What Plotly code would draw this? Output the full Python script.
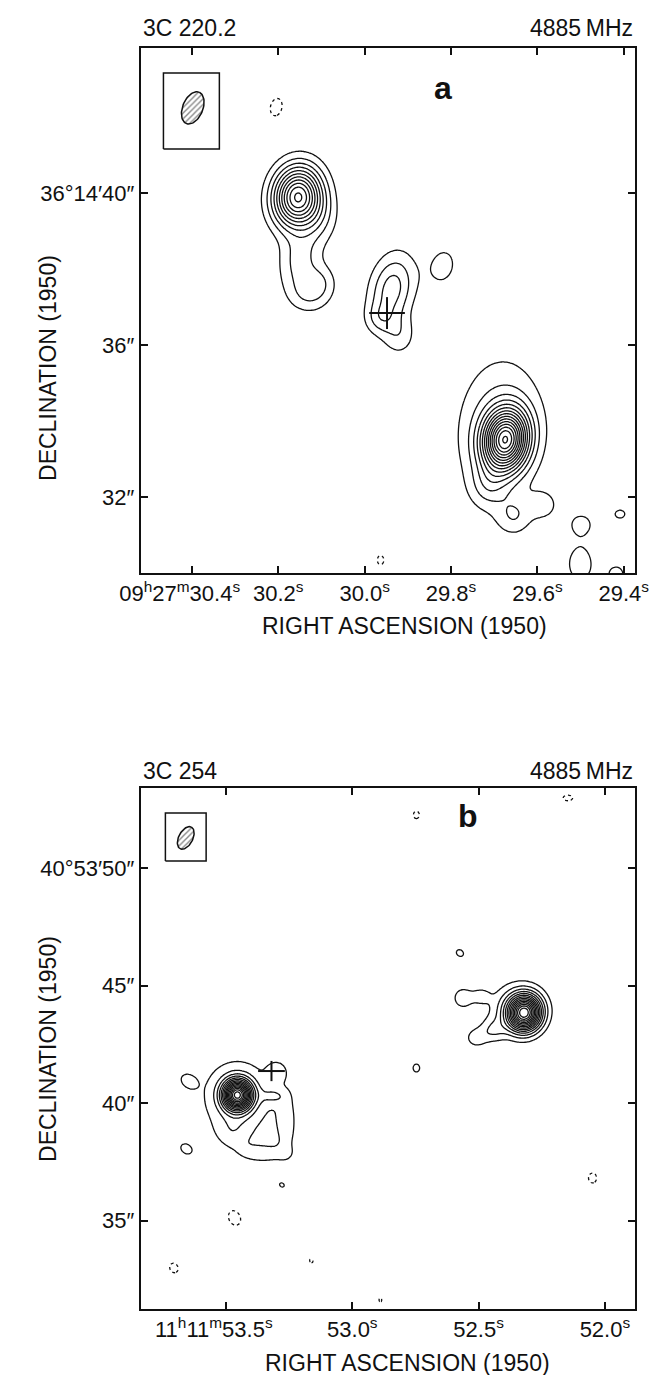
import numpy as np
import plotly.graph_objects as go

# ============ Panel a : 3C 220.2  (RA = 09h27m + s, Dec = 36d14' + arcsec) ============
A_RA  = [30.1553, 30.1068, 30.1478, 30.1566, 30.1281, 30.1018, 29.9373, 29.9197, 29.9658,
         29.8189, 29.6741, 29.6873, 29.7136, 29.6544, 29.5864, 29.4987, 29.4088, 29.5009,
         29.4173]
A_DEC = [39.90, 39.30, 38.45, 37.89, 37.29, 37.68, 37.47, 36.25, 36.70, 38.08,
         33.50, 33.87, 32.29, 31.50, 31.79, 31.29, 31.55, 30.24, 29.97]
A_AMP = [11.0, 1.4, 1.35, 1.45, 1.6, 1.4, 3.5, 1.5, 1.3, 1.3,
         13.0, 2.3, 1.6, 1.7, 1.4, 1.3, 1.2, 1.5, 1.3]
A_SMIN = [0.46, 0.40, 0.40, 0.40, 0.42, 0.32, 0.42, 0.32, 0.28, 0.36,
          0.42, 0.85, 0.35, 0.35, 0.30, 0.30, 0.22, 0.33, 0.25]
A_SMAJ = [0.55, 0.50, 0.40, 0.45, 0.34, 0.32, 0.66, 0.38, 0.28, 0.48,
          0.55, 1.30, 0.40, 0.35, 0.28, 0.26, 0.17, 0.45, 0.25]
A_PA = [-10, 0, 0, 0, 0, 0, -15, 0, 0, -15, -10, -5, 0, 0, 0, 0, 0, 0, 0]
# negative (dashed) features
A_NRA  = [30.2048, 29.9632]
A_NDEC = [42.26, 30.34]
A_NAMP = [1.3, 1.2]
A_NSMIN = [0.22, 0.15]
A_NSMAJ = [0.32, 0.20]
A_NPA = [-15, 0]
A_CROSS = (29.9482, 36.84)
A_CROSS_ARM = (0.5, 0.42)          # arcsec (RA arm, Dec arm)
A_BEAM = (30.398, 42.24, 0.90, 0.56, -25)   # centre RA, Dec, major, minor, PA
A_BEAM_BOX = (30.4659, 30.3364, 41.16, 43.16)
A_XTICKS = [30.4, 30.2, 30.0, 29.8, 29.6, 29.4]
A_XTEXT = ["09<sup>h</sup>27<sup>m</sup>30.4<sup>s</sup>" + "\u00a0" * 4, "30.2<sup>s</sup>",
           "30.0<sup>s</sup>", "29.8<sup>s</sup>", "29.6<sup>s</sup>", "29.4<sup>s</sup>"]
A_YTICKS = [40, 36, 32]
A_YTEXT = ["36°14′40″", "36″", "32″"]
A_XRANGE = [30.5184, 29.3737]
A_YRANGE = [30.0, 43.816]
A_DEC0 = 36.24

# ============ Panel b : 3C 254  (RA = 11h11m + s, Dec = 40d53' + arcsec) ============
B_RA  = [53.455, 53.455, 53.4738, 53.3462, 53.26, 53.3125, 53.2975,
         53.65, 53.6575, 53.2788, 52.5739, 52.7463,
         52.3189, 52.3489, 52.4426, 52.5101, 52.5626, 52.4914]
B_DEC = [40.34, 40.26, 38.81, 37.83, 39.06, 40.30, 41.32,
         40.94, 38.04, 36.51, 46.38, 41.49,
         43.83, 44.04, 43.10, 42.77, 44.47, 44.55]
B_AMP = [14.0, 1.65, 1.0, 1.3, 1.4, 1.3, 1.4,
         1.3, 1.3, 1.15, 1.25, 1.25,
         13.0, 2.2, 1.7, 1.5, 1.6, 1.2]
B_SMIN = [0.44, 1.40, 0.50, 0.28, 0.30, 0.25, 0.30,
          0.22, 0.22, 0.14, 0.20, 0.22,
          0.50, 0.75, 0.35, 0.30, 0.35, 0.25]
B_SMAJ = [0.44, 1.40, 0.50, 0.85, 0.95, 0.40, 0.30,
          0.30, 0.30, 0.18, 0.25, 0.25,
          0.52, 0.85, 0.40, 0.35, 0.35, 0.30]
B_PA = [0, 0, 0, 90, 0, 90, 0, 60, 60, 60, 60, 0, -30, 90, 90, 90, 0, 90]
B_NRA  = [53.4663, 53.7062, 53.1625, 52.8888, 52.7463, 52.1464, 52.0489]
B_NDEC = [35.11, 32.98, 33.28, 31.62, 52.26, 52.98, 36.81]
B_NAMP = [1.3, 1.2, 1.1, 1.1, 1.15, 1.2, 1.2]
B_NSMIN = [0.35, 0.30, 0.15, 0.15, 0.25, 0.20, 0.30]
B_NSMAJ = [0.45, 0.35, 0.20, 0.20, 0.30, 0.35, 0.35]
B_NPA = [30, 30, 45, 0, 0, 90, 0]
B_CROSS = (53.32, 41.36)
B_CROSS_ARM = (0.6, 0.43)
B_BEAM = (53.6594, 51.28, 1.05, 0.62, -30)
B_BEAM_BOX = (53.74, 53.5787, 50.30, 52.34)
B_XTICKS = [53.5, 53.0, 52.5, 52.0]
B_XTEXT = ["11<sup>h</sup>11<sup>m</sup>53.5<sup>s</sup>" + "\u00a0" * 4, "53.0<sup>s</sup>",
           "52.5<sup>s</sup>", "52.0<sup>s</sup>"]
B_YTICKS = [50, 45, 40, 35]
B_YTEXT = ["40°53′50″", "45″", "40″", "35″"]
B_XRANGE = [53.8375, 51.8802]
B_YRANGE = [31.234, 53.404]
B_DEC0 = 40.9

FONT = "Liberation Sans, Arial, sans-serif"
W, H = 662, 1375


def brightness(ra, dec, cra, cdec, amp, smin, smaj, pa, dec0):
    RA, DEC = np.meshgrid(ra, dec)
    z = np.zeros_like(RA)
    k = 15.0 * np.cos(np.radians(dec0))
    for r0, d0, a, s1, s2, p in zip(cra, cdec, amp, smin, smaj, pa):
        dx = (RA - r0) * k
        dy = DEC - d0
        t = np.radians(p)
        u = dx * np.sin(t) + dy * np.cos(t)
        v = dx * np.cos(t) - dy * np.sin(t)
        z += a * np.exp(-0.5 * ((u / s2) ** 2 + (v / s1) ** 2))
    return z


def beam_outline(b, dec0):
    ra0, d0, maj, mnr, pa = b
    k = 15.0 * np.cos(np.radians(dec0))
    th = np.linspace(0, 2 * np.pi, 73)
    u = 0.5 * maj * np.cos(th)
    v = 0.5 * mnr * np.sin(th)
    t = np.radians(pa)
    dx = u * np.sin(t) + v * np.cos(t)
    dy = u * np.cos(t) - v * np.sin(t)
    return ra0 + dx / k, d0 + dy


fig = go.Figure()
black = [[0, "#111"], [1, "#111"]]


def add_panel(xa, ya, xr, yr, dec0, pos, neg, cross, arm, beam, box):
    ra = np.linspace(min(xr) - 0.02, max(xr) + 0.02, 400)
    dec = np.linspace(min(yr) - 0.3, max(yr) + 0.3, 400)
    z = brightness(ra, dec, *pos, dec0)
    zn = brightness(ra, dec, *neg, dec0)
    fig.add_trace(go.Contour(x=ra, y=dec, z=z, xaxis=xa, yaxis=ya, autocontour=False,
                             contours=dict(start=1, end=40, size=1, coloring="lines"),
                             line=dict(width=1.3, smoothing=1), colorscale=black,
                             showscale=False, hoverinfo="skip"))
    fig.add_trace(go.Contour(x=ra, y=dec, z=zn, xaxis=xa, yaxis=ya, autocontour=False,
                             contours=dict(start=1, end=1.5, size=1, coloring="lines"),
                             line=dict(width=1.3, dash="dot", smoothing=1), colorscale=black,
                             showscale=False, hoverinfo="skip"))
    k = 15.0 * np.cos(np.radians(dec0))
    cx, cy = cross
    fig.add_trace(go.Scatter(x=[cx - arm[0] / k, cx + arm[0] / k, None, cx, cx],
                             y=[cy, cy, None, cy - arm[1], cy + arm[1]],
                             mode="lines", line=dict(color="#111", width=2),
                             xaxis=xa, yaxis=ya, showlegend=False, hoverinfo="skip"))
    bx, by = beam_outline(beam, dec0)
    fig.add_trace(go.Scatter(x=bx, y=by, mode="lines", fill="toself",
                             fillcolor="rgba(0,0,0,0)",
                             fillpattern=dict(shape="/", fgcolor="#111", bgcolor="white",
                                              size=4, solidity=0.35),
                             line=dict(color="#111", width=1.5),
                             xaxis=xa, yaxis=ya, showlegend=False, hoverinfo="skip"))
    x0, x1, y0, y1 = box
    fig.add_trace(go.Scatter(x=[x0, x1, x1, x0, x0], y=[y0, y0, y1, y1, y0], mode="lines",
                             line=dict(color="#111", width=1.5),
                             xaxis=xa, yaxis=ya, showlegend=False, hoverinfo="skip"))


add_panel("x", "y", A_XRANGE, A_YRANGE, A_DEC0,
          (A_RA, A_DEC, A_AMP, A_SMIN, A_SMAJ, A_PA),
          (A_NRA, A_NDEC, A_NAMP, A_NSMIN, A_NSMAJ, A_NPA),
          A_CROSS, A_CROSS_ARM, A_BEAM, A_BEAM_BOX)
add_panel("x2", "y2", B_XRANGE, B_YRANGE, B_DEC0,
          (B_RA, B_DEC, B_AMP, B_SMIN, B_SMAJ, B_PA),
          (B_NRA, B_NDEC, B_NAMP, B_NSMIN, B_NSMAJ, B_NPA),
          B_CROSS, B_CROSS_ARM, B_BEAM, B_BEAM_BOX)

XL, XR = 118, 640
xdom = [XL / W, XR / W]
ya_dom = [1 - 565 / H, 1 - 40 / H]
yb_dom = [1 - 1301 / H, 1 - 780 / H]

axis_common = dict(showline=True, linewidth=2, linecolor="#111", mirror="ticks",
                   ticks="inside", ticklen=7, tickwidth=1.6, tickcolor="#111",
                   showgrid=False, zeroline=False, tickmode="array", tickangle=0,
                   tickfont=dict(family=FONT, size=22, color="#111"))

fig.update_layout(
    width=W, height=H, margin=dict(l=0, r=0, t=0, b=0),
    paper_bgcolor="white", plot_bgcolor="white", showlegend=False,
    xaxis=dict(domain=xdom, anchor="y", range=A_XRANGE, tickvals=A_XTICKS, ticktext=A_XTEXT,
               **axis_common),
    yaxis=dict(domain=ya_dom, anchor="x", range=A_YRANGE, tickvals=A_YTICKS, ticktext=A_YTEXT,
               **axis_common),
    xaxis2=dict(domain=xdom, anchor="y2", range=B_XRANGE, tickvals=B_XTICKS, ticktext=B_XTEXT,
                **axis_common),
    yaxis2=dict(domain=yb_dom, anchor="x2", range=B_YRANGE, tickvals=B_YTICKS, ticktext=B_YTEXT,
                **axis_common),
)

tf = dict(family=FONT, size=23, color="#111")
lf = dict(family=FONT, size=23, color="#111")
ann = [
    dict(text="3C 220.2", x=XL / W, y=1 - 20 / H, xanchor="left", yanchor="middle", font=tf),
    dict(text="4885\u2009MHz", x=XR / W, y=1 - 20 / H, xanchor="right", yanchor="middle",
         font=tf),
    dict(text="3C 254", x=XL / W, y=1 - 763 / H, xanchor="left", yanchor="middle", font=tf),
    dict(text="4885\u2009MHz", x=XR / W, y=1 - 763 / H, xanchor="right", yanchor="middle",
         font=tf),
    dict(text="RIGHT ASCENSION (1950)", x=396 / W, y=1 - 618 / H, xanchor="center",
         yanchor="middle", font=lf),
    dict(text="RIGHT ASCENSION (1950)", x=400 / W, y=1 - 1355 / H, xanchor="center",
         yanchor="middle", font=lf),
    dict(text="DECLINATION (1950)", x=20 / W, y=1 - 360 / H, xanchor="center",
         yanchor="middle", textangle=-90, font=lf),
    dict(text="DECLINATION (1950)", x=20 / W, y=1 - 1041 / H, xanchor="center",
         yanchor="middle", textangle=-90, font=lf),
    dict(text="<b>a</b>", x=437 / W, y=1 - 80 / H, xanchor="center", yanchor="middle",
         font=dict(family=FONT, size=32, color="#111")),
    dict(text="<b>b</b>", x=463 / W, y=1 - 808 / H, xanchor="center", yanchor="middle",
         font=dict(family=FONT, size=32, color="#111")),
]
for a in ann:
    a.update(xref="paper", yref="paper", showarrow=False)
fig.update_layout(annotations=ann)

fig.write_html("out.html")
